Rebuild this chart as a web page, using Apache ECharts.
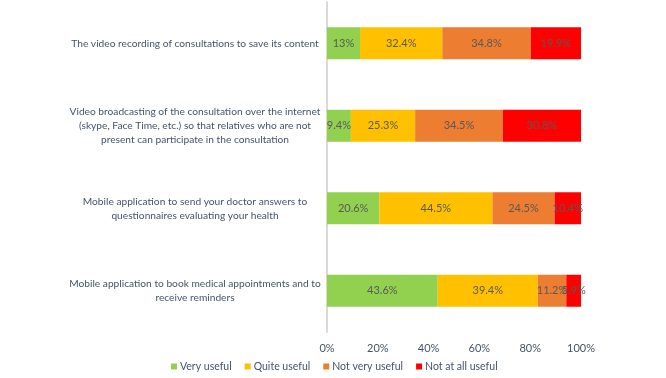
<!DOCTYPE html>
<html>
<head>
<meta charset="utf-8">
<script src="https://cdn.jsdelivr.net/npm/echarts@6/dist/echarts.min.js"></script>
<style>
html,body{margin:0;padding:0;background:#fff;}
#EchartDiv{width:666px;height:378px;}
</style>
</head>
<body>
<div id="EchartDiv"></div>
<script>
// categories, bottom to top
var arrItems = [
	'Mobile application to book medical appointments and to\nreceive reminders',
	'Mobile application to send your doctor answers to\nquestionnaires evaluating your health',
	'Video broadcasting of the consultation over the internet\n(skype, Face Time, etc.) so that relatives who are not\npresent can participate in the consultation',
	'The video recording of consultations to save its content'
];
var arrVeryUseful    = [43.6, 20.6, 9.4, 13];
var arrQuiteUseful   = [39.4, 44.5, 25.3, 32.4];
var arrNotVeryUseful = [11.2, 24.5, 34.5, 34.8];
var arrNotAtAll      = [5.9, 10.4, 30.8, 19.9];
var arrLegend = ['Very useful', 'Quite useful', 'Not very useful', 'Not at all useful'];
var arrColors = ['#92D050', '#FFC000', '#ED7D31', '#FF0000'];

var myChart = echarts.init(document.getElementById('EchartDiv'));
var fontName = 'Lato';

function makeSeries(name, data, color){
	return {
		name: name,
		type: 'bar',
		stack: 'total',
		barWidth: 32,
		data: data,
		itemStyle: {color: color},
		label: {
			show: true,
			position: 'inside',
			color: '#595959',
			fontFamily: fontName,
			fontSize: 11,
			formatter: '{c}%'
		}
	};
}

var option = {
	animation: false,
	grid: {
		left: 327,
		right: 85,
		top: 2,
		bottom: 46,
		outerBoundsMode: 'none'
	},
	legend: {
		data: arrLegend,
		bottom: 1,
		left: 166,
		itemWidth: 6,
		itemHeight: 6,
		itemGap: 13,
		icon: 'rect',
		textStyle: {color: '#44546A', fontFamily: fontName, fontSize: 10.5, padding: [0, 0, 0, -2]}
	},
	xAxis: {
		type: 'value',
		min: 0,
		max: 100,
		interval: 20,
		axisLine: {show: false},
		axisTick: {show: false},
		splitLine: {show: false},
		axisLabel: {
			formatter: '{value}%',
			color: '#44546A',
			fontFamily: fontName,
			fontSize: 11,
			margin: 11
		}
	},
	yAxis: {
		type: 'category',
		data: arrItems,
		axisLine: {show: true, lineStyle: {color: '#D9D9D9', width: 2}},
		axisTick: {show: false},
		axisLabel: {
			align: 'center',
			margin: 132,
			color: '#44546A',
			fontFamily: fontName,
			fontSize: 10.2,
			lineHeight: 14
		}
	},
	series: [
		makeSeries(arrLegend[0], arrVeryUseful, arrColors[0]),
		makeSeries(arrLegend[1], arrQuiteUseful, arrColors[1]),
		makeSeries(arrLegend[2], arrNotVeryUseful, arrColors[2]),
		makeSeries(arrLegend[3], arrNotAtAll, arrColors[3])
	]
};
myChart.setOption(option);
</script>
</body>
</html>
